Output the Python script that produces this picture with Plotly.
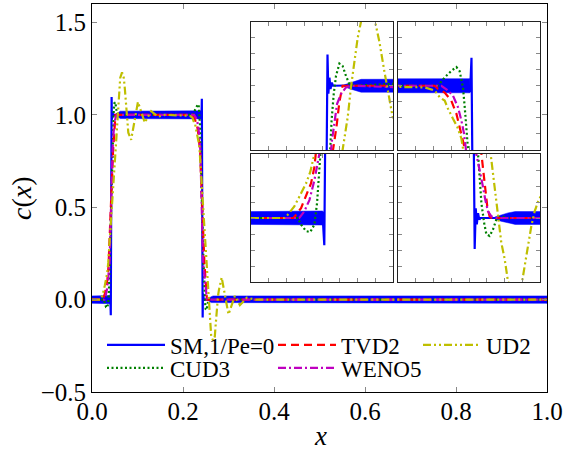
import plotly.graph_objects as go

W, H = 563, 450

# ---------------- data ----------------
# SM, 1/Pe=0 : centre line
sm_x = [0.0, 0.0395, 0.0402, 0.0407, 0.0413, 0.0431, 0.0436, 0.0442, 0.0448, 0.0455, 0.0462,
        0.2398, 0.2404, 0.2409, 0.2414, 0.2432, 0.2438, 0.2444, 0.2451, 0.2458, 0.2466, 1.0]
sm_y = [0.0, 0.0, 0.02, -0.02, -0.085, 1.097, 0.975, 1.025, 0.99, 1.01, 1.0,
        1.0, 0.98, 1.02, 1.087, -0.097, 0.03, -0.02, 0.015, -0.005, 0.0, 0.0]
# SM high-frequency ripple envelope (segments: x, plateau level, half-width)
sm_band_x = [[0.0, 0.0404],
             [0.0526, 0.0560, 0.0590, 0.0620, 0.2405],
             [0.2545, 0.2580, 0.2620, 0.2660, 1.0]]
sm_band_level = [0.0, 1.0, 0.0]
sm_band_half = [[0.02, 0.022],
                [0.003, 0.010, 0.016, 0.02, 0.022],
                [0.003, 0.010, 0.016, 0.02, 0.02]]

cud3_x = [0.0, 0.0263, 0.0282, 0.0310, 0.0334, 0.0357, 0.0372, 0.0381, 0.0389, 0.0447, 0.0454,
          0.0466, 0.0479, 0.0498, 0.0516, 0.0535, 0.0554, 0.0582, 0.2225, 0.2263, 0.2300, 0.2329,
          0.2347, 0.2366, 0.2376, 0.2381, 0.2385, 0.2451, 0.2460, 0.2470, 0.2485, 0.2498, 0.2516,
          0.2535, 0.2554, 0.2582, 0.2620, 1.0]
cud3_y = [0, 0, -0.0205, -0.041, -0.044, -0.0205, 0.046, 0.128, 0.2, 0.81, 0.892,
          0.974, 1.031, 1.069, 1.062, 1.031, 1.005, 1.0, 1.0, 1.026, 1.046, 1.058,
          1.046, 0.995, 0.933, 0.862, 0.805, 0.2, 0.118, 0.046, -0.015, -0.051, -0.056,
          -0.036, -0.005, 0.005, 0, 0]

tvd2_x = [0.0, 0.0240, 0.0282, 0.0310, 0.0338, 0.0357, 0.0366, 0.0462, 0.0481, 0.0498, 0.0516,
          0.2207, 0.2225, 0.2263, 0.2300, 0.2329, 0.2347, 0.2366, 0.2376, 0.2470, 0.2479, 0.2492,
          0.2503, 0.2516, 0.2526, 1.0]
tvd2_y = [0, 0, 0.031, 0.067, 0.108, 0.159, 0.2, 0.8, 0.87, 0.95, 1.0,
          1.0, 0.99, 0.979, 0.954, 0.913, 0.872, 0.831, 0.805, 0.2, 0.159, 0.097,
          0.036, 0.005, 0, 0]

weno5_x = [0.0, 0.0272, 0.0300, 0.0329, 0.0357, 0.0376, 0.0385, 0.0454, 0.0470, 0.0485, 0.0507,
           0.0535, 0.0563, 0.2244, 0.2282, 0.2310, 0.2338, 0.2357, 0.2372, 0.2381, 0.2441, 0.2466,
           0.2479, 0.2492, 0.2507, 0.2526, 0.2554, 1.0]
weno5_y = [0, 0, 0.0205, 0.056, 0.118, 0.179, 0.2, 0.821, 0.892, 0.944, 0.974,
           0.995, 1.0, 1.0, 0.985, 0.969, 0.933, 0.892, 0.851, 0.81, 0.2, 0.138,
           0.097, 0.056, 0.021, 0.005, 0, 0]

ud2_x = [0.0, 0.0188, 0.0207, 0.0244, 0.0282, 0.0310, 0.0334, 0.0353, 0.0357, 0.0516, 0.0545,
         0.0563, 0.0582, 0.0601, 0.0620, 0.0660, 0.0699, 0.0723, 0.0751, 0.0774, 0.0798, 0.0860,
         0.1010, 0.1160, 0.1300, 0.1450, 0.1600, 0.2150, 0.2207, 0.2235, 0.2263, 0.2282, 0.2310,
         0.2334, 0.2357, 0.2366, 0.2522, 0.2541, 0.2563, 0.2582, 0.2601, 0.2610, 0.2620, 0.2660,
         0.2699, 0.2714, 0.2732, 0.2751, 0.2770, 0.2789, 0.2850, 0.3000, 0.3140, 0.3250, 0.3400,
         0.3600, 1.0]
ud2_y = [0, 0, 0.01, 0.036, 0.077, 0.108, 0.144, 0.19, 0.2, 0.8, 0.903,
         0.995, 1.077, 1.149, 1.2, 1.23, 1.2, 1.138, 1.046, 0.974, 0.903, 0.865,
         1.07, 0.958, 1.02, 0.99, 1.0, 0.995, 0.985, 0.964, 0.954, 0.928, 0.897,
         0.872, 0.836, 0.805, 0.2, 0.108, 0.005, -0.077, -0.128, -0.169, -0.2, -0.22,
         -0.2, -0.149, -0.087, -0.026, 0.021, 0.051, 0.12, -0.08, 0.02, -0.03, 0.01,
         0.0, 0.0]

x_ticks = [0.0, 0.2, 0.4, 0.6, 0.8, 1.0]
y_ticks = [-0.5, 0.0, 0.5, 1.0, 1.5]

# inset views: (x range, y range)
inset_ranges = [([0.0, 0.08], [0.8, 1.2]), ([0.2, 0.28], [0.8, 1.2]),
                ([0.0, 0.08], [-0.2, 0.2]), ([0.2, 0.28], [-0.2, 0.2])]

# ---------------- styling ----------------
FONT = "Times New Roman"
BLUE, GREEN, RED, MAG, YEL = "#0000ff", "#008000", "#ff0000", "#bf00bf", "#bfbf00"

series = [
    ("SM,1/Pe=0", sm_x, sm_y, BLUE, "solid", 2.2, "legend"),
    ("CUD3", cud3_x, cud3_y, GREEN, "2px,2.5px", 2.2, "legend2"),
    ("TVD2", tvd2_x, tvd2_y, RED, "8px,5px", 2.2, "legend3"),
    ("WENO5", weno5_x, weno5_y, MAG, "8px,3px,2px,3px", 2.2, "legend4"),
    ("UD2", ud2_x, ud2_y, YEL, "8px,3px,2px,3px,2px,3px", 2.2, "legend5"),
]

# SM ripple envelope polygon
band_px, band_py = [], []
for seg_x, lvl, seg_h in zip(sm_band_x, sm_band_level, sm_band_half):
    band_px += seg_x + seg_x[::-1] + [None]
    band_py += [lvl + h for h in seg_h] + [lvl - h for h in seg_h[::-1]] + [None]

fig = go.Figure()
axes_list = [("x", "y"), ("x2", "y2"), ("x3", "y3"), ("x4", "y4"), ("x5", "y5")]
for i, (xa, ya) in enumerate(axes_list):
    fig.add_trace(go.Scatter(x=band_px, y=band_py, xaxis=xa, yaxis=ya, mode="lines",
                             fill="toself", fillcolor=BLUE, line=dict(color=BLUE, width=0.5),
                             showlegend=False, hoverinfo="skip"))
    for name, xs, ys, col, dash, lw, leg in series:
        fig.add_trace(go.Scatter(x=xs, y=ys, xaxis=xa, yaxis=ya, mode="lines", name=name,
                                 line=dict(color=col, dash=dash, width=lw),
                                 showlegend=(i == 0), legend=leg))

def fx(p):
    return p / W

def fy(p):
    return 1 - p / H

layout = dict(
    width=W, height=H, margin=dict(l=0, r=0, t=0, b=0, autoexpand=False),
    paper_bgcolor="white", plot_bgcolor="white",
    font=dict(family=FONT, size=25, color="black"),
    xaxis=dict(domain=[fx(92), fx(547)], range=[0, 1], tickvals=x_ticks, tickformat=".1f",
               ticks="inside", ticklen=5, tickcolor="#888", showline=True, linecolor="black",
               linewidth=1, mirror="ticks", showgrid=False, zeroline=False, automargin=False,
               ticklabelstandoff=-3,
               tickfont=dict(family=FONT, size=25, color="black")),
    yaxis=dict(domain=[fy(392), fy(4)], range=[-0.5, 1.6], tickvals=y_ticks, tickformat=".1f",
               ticks="inside", ticklen=5, tickcolor="#888", showline=True, linecolor="black",
               linewidth=1, mirror="ticks", showgrid=False, zeroline=False, automargin=False,
               tickfont=dict(family=FONT, size=25, color="black")),
    annotations=[
        dict(text="<i>x</i>", x=fx(320), y=fy(436), xref="paper", yref="paper",
             showarrow=False, font=dict(family=FONT, size=27, color="black"),
             xanchor="center", yanchor="middle"),
        dict(text="<i>c</i>(<i>x</i>)", x=fx(22), y=fy(198), xref="paper", yref="paper",
             showarrow=False, textangle=-90, font=dict(family=FONT, size=28, color="black"),
             xanchor="center", yanchor="middle"),
    ],
)

inset_boxes = [(251, 393, 21.5, 150), (398, 540, 21.5, 150),
               (251, 393, 154, 282), (398, 540, 154, 282)]
for k, ((xr, yr), (x0, x1, y0, y1)) in enumerate(zip(inset_ranges, inset_boxes)):
    n = k + 2
    layout[f"xaxis{n}"] = dict(domain=[fx(x0), fx(x1)], range=xr, anchor=f"y{n}",
                               dtick=0.01, tick0=0, ticks="inside", ticklen=4, tickcolor="#888",
                               showticklabels=False, showline=True, linecolor="#222",
                               linewidth=1.3, mirror="ticks", showgrid=False, zeroline=False,
                               automargin=False)
    layout[f"yaxis{n}"] = dict(domain=[fy(y1), fy(y0)], range=yr, anchor=f"x{n}",
                               dtick=0.05, tick0=0, ticks="inside", ticklen=4, tickcolor="#888",
                               showticklabels=False, showline=True, linecolor="#222",
                               linewidth=1.3, mirror="ticks", showgrid=False, zeroline=False,
                               automargin=False)

# one legend per entry, placed like the 3-column reference legend
leg_pos = {"legend": (102, 345), "legend2": (102, 368), "legend3": (273, 345),
           "legend4": (273, 368), "legend5": (418, 345)}
for key, (lx, ly) in leg_pos.items():
    layout[key] = dict(x=fx(lx), y=fy(ly), xanchor="left", yanchor="middle",
                       bgcolor="rgba(0,0,0,0)", borderwidth=0, itemwidth=58,
                       font=dict(family=FONT, size=23, color="black"))

fig.update_layout(**layout)
fig.write_html("out.html")
